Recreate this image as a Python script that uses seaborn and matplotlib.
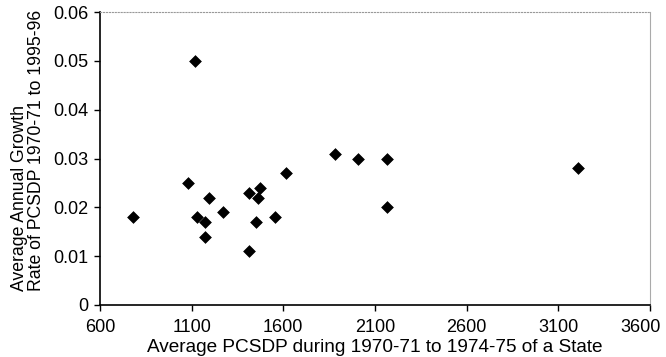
import matplotlib
matplotlib.use("Agg")
import matplotlib.pyplot as plt
import matplotlib.transforms as mtransforms
import seaborn as sns
import pandas as pd

# average PCSDP 1970-71 to 1974-75 and growth rate 1970-71 to 1995-96
pcsdp = [780, 1082, 1118, 1131, 1171, 1171, 1193, 1269, 1411, 1411,
         1449, 1464, 1473, 1553, 1615, 1882, 2009, 2164, 2164, 3206]
growth = [0.018, 0.025, 0.050, 0.018, 0.017, 0.014, 0.022, 0.019, 0.023, 0.011,
          0.017, 0.022, 0.024, 0.018, 0.027, 0.031, 0.030, 0.030, 0.020, 0.028]
x_ticks = [600, 1100, 1600, 2100, 2600, 3100, 3600]
y_ticks = [0, 0.01, 0.02, 0.03, 0.04, 0.05, 0.06]
y_tick_labels = ['0', '0.01', '0.02', '0.03', '0.04', '0.05', '0.06']

df = pd.DataFrame({'pcsdp': pcsdp, 'growth': growth})

sns.set_style('ticks')
plt.rcParams['font.family'] = ['Liberation Sans', 'DejaVu Sans']
plt.rcParams['text.color'] = 'black'
plt.rcParams['axes.labelcolor'] = 'black'
plt.rcParams['xtick.color'] = 'black'
plt.rcParams['ytick.color'] = 'black'

fig = plt.figure(figsize=(6.66, 3.57), dpi=100)
ax = fig.add_axes([0.150, 0.146, 0.826, 0.820])

sns.scatterplot(data=df, x='pcsdp', y='growth', marker='D', s=36,
                color='black', edgecolor='black', ax=ax)

ax.set_xlim(600, 3600)
ax.set_ylim(0, 0.06)
ax.set_xticks(x_ticks)
ax.set_yticks(y_ticks)
ax.set_yticklabels(y_tick_labels)
ax.tick_params(axis='x', labelsize=13, length=4, width=1, direction='out', pad=6)
ax.tick_params(axis='y', labelsize=13, length=4, width=1, direction='out', pad=4)

# the last x label sits a bit left of its tick, as in the scan
last = ax.get_xticklabels()[-1]
last.set_transform(last.get_transform() +
                   mtransforms.ScaledTranslation(-9 / 100, 0, fig.dpi_scale_trans))

ax.set_xlabel('Average PCSDP during 1970-71 to 1974-75 of a State', fontsize=13.7, labelpad=2)
ax.set_ylabel('Average Annual Growth\nRate of PCSDP 1970-71 to 1995-96', fontsize=12.7,
              linespacing=1.0, multialignment='left')
ax.yaxis.set_label_coords(-0.10, 0.529)

for side in ['left', 'bottom']:
    ax.spines[side].set_color('black')
    ax.spines[side].set_linewidth(1.2)
ax.spines['top'].set_visible(True)
ax.spines['top'].set_color('#999999')
ax.spines['top'].set_linestyle(':')
ax.spines['top'].set_linewidth(0.8)
ax.spines['right'].set_visible(True)
ax.spines['right'].set_color('#aaaaaa')
ax.spines['right'].set_linewidth(0.8)

fig.savefig('out.png', dpi=100)
